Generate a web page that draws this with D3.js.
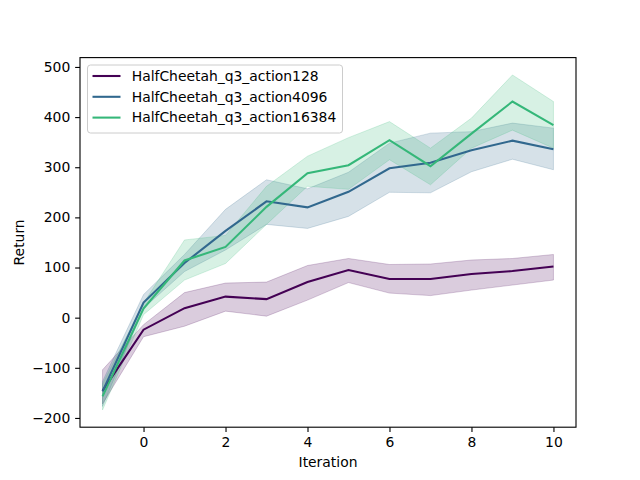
<!DOCTYPE html>
<html><head><meta charset="utf-8">
<script src="https://cdn.jsdelivr.net/npm/d3@7"></script>
<style>body{margin:0;background:#fff;}svg{display:block;font-family:"DejaVu Sans",sans-serif;}</style>
</head><body><svg id="c" width="640" height="480"></svg>
<script>
const iterations = [-1,0,1,2,3,4,5,6,7,8,9,10];
const seriesNames = ["HalfCheetah_q3_action128","HalfCheetah_q3_action4096","HalfCheetah_q3_action16384"];
const seriesColors = ["#440154","#31688e","#35b779"];
const mean128 = [-146,-24,19,42,37,71,95,77,77,87,93,102];
const upper128 = [-104,-14,50,69,71,104,118,106,107,115,118,126];
const lower128 = [-172,-38,-17,13,3,35,70,49,44,55,65,75];
const mean4096 = [-147,30,109,173,232,220,251,298,309,334,353,336];
const upper4096 = [-127,46,126,216,275,257,290,348,368,371,388,378];
const lower4096 = [-177,19,92,135,186,178,202,250,249,291,316,295];
const mean16384 = [-157,18,114,141,221,288,304,354,302,367,431,384];
const upper16384 = [-132,29,155,164,262,322,359,391,338,398,484,431];
const lower16384 = [-184,6,75,108,186,262,256,315,265,338,374,338];
const xTicks = [0,2,4,6,8,10];
const yTicks = [-200,-100,0,100,200,300,400,500];

const svg = d3.select("#c");
const L=80,R=576,T=57.6,B=427.2;
const x = d3.scaleLinear().domain([-1.55,10.55]).range([L,R]);
const y = d3.scaleLinear().domain([-218.45,518.65]).range([B,T]);
const data = [
  {m:mean128,u:upper128,l:lower128},
  {m:mean4096,u:upper4096,l:lower4096},
  {m:mean16384,u:upper16384,l:lower16384}
];
const area = d3.area().x(d=>x(d.x)).y0(d=>y(d.l)).y1(d=>y(d.u));
const line = d3.line().x(d=>x(d.x)).y(d=>y(d.m));
const g = svg.append("g");
data.forEach((s,i)=>{
  const pts = iterations.map((it,j)=>({x:it,m:s.m[j],u:s.u[j],l:s.l[j]}));
  g.append("path").attr("d",area(pts)).attr("fill",seriesColors[i]).attr("fill-opacity",0.2)
   .attr("stroke",seriesColors[i]).attr("stroke-opacity",0.2).attr("stroke-width",1);
  s.pts=pts;
});
data.forEach((s,i)=>{
  g.append("path").attr("d",line(s.pts)).attr("fill","none").attr("stroke",seriesColors[i]).attr("stroke-width",2.08);
});
// axes
const fs = "13.9px";
const xa = svg.append("g").attr("transform",`translate(0,${B})`).call(d3.axisBottom(x).tickValues(xTicks).tickSize(4.86).tickPadding(4.86).tickFormat(d3.format("d")));
const ya = svg.append("g").attr("transform",`translate(${L},0)`).call(d3.axisLeft(y).tickValues(yTicks).tickSize(4.86).tickPadding(4.86).tickFormat(d=>d<0?"\u2212"+Math.abs(d):d));
[xa,ya].forEach(a=>{a.select(".domain").remove();a.selectAll("text").attr("font-size",fs).attr("font-family","DejaVu Sans").attr("fill","#000");a.selectAll("line").attr("stroke","#000").attr("stroke-width",1.11);});
svg.append("rect").attr("x",L).attr("y",T).attr("width",R-L).attr("height",B-T).attr("fill","none").attr("stroke","#000").attr("stroke-width",1.11);
svg.append("text").attr("x",(L+R)/2).attr("y",467).attr("text-anchor","middle").attr("font-size",fs).text("Iteration");
svg.append("text").attr("transform","translate(24,"+((T+B)/2)+") rotate(-90)").attr("text-anchor","middle").attr("font-size",fs).text("Return");
// legend
const lg = svg.append("g");
lg.append("rect").attr("x",87.5).attr("y",65).attr("width",255).attr("height",68).attr("rx",3).attr("fill","#fff").attr("fill-opacity",0.8).attr("stroke","#cccccc").attr("stroke-width",1);
seriesNames.forEach((n,i)=>{
  const cy = 76 + i*20.8;
  lg.append("line").attr("x1",92.5).attr("x2",120.5).attr("y1",cy).attr("y2",cy).attr("stroke",seriesColors[i]).attr("stroke-width",2.08);
  lg.append("text").attr("x",131.7).attr("y",cy).attr("dy","0.35em").attr("font-size",fs).text(n);
});
</script></body></html>
